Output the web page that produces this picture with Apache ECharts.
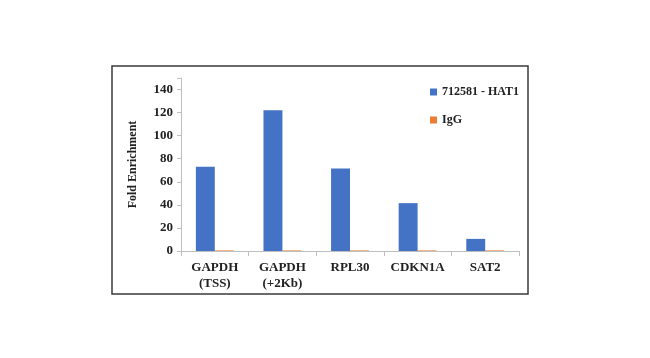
<!DOCTYPE html>
<html><head><meta charset="utf-8">
<script src="https://cdn.jsdelivr.net/npm/echarts@6/dist/echarts.min.js"></script>
<style>html,body{margin:0;padding:0;background:#fff}#c{width:650px;height:358px}</style>
</head><body><div id="c"></div>
<script>
const categories = ['GAPDH\n(TSS)', 'GAPDH\n(+2Kb)', 'RPL30', 'CDKN1A', 'SAT2'];
const hat1Values = [73, 122, 71.5, 41.5, 10.5];
const iggValues = [0.5, 0.5, 0.5, 0.5, 0.5];
const yTicks = [0, 20, 40, 60, 80, 100, 120, 140];
const seriesNames = ['712581 - HAT1', 'IgG'];

const font = '"Liberation Serif", "Times New Roman", serif';
const chart = echarts.init(document.getElementById('c'));
chart.setOption({
  animation: false,
  backgroundColor: '#fff',
  graphic: [{
    type: 'rect', shape: {x: 112, y: 66, width: 416, height: 228},
    style: {fill: 'none', stroke: '#3a3a3a', lineWidth: 1.5}, z: -1
  }],
  legend: {
    orient: 'vertical', left: 425, top: 81, itemGap: 16,
    itemWidth: 7, itemHeight: 7, icon: 'rect',
    textStyle: {fontFamily: font, fontWeight: 'bold', fontSize: 12, color: '#222'},
    data: seriesNames
  },
  grid: {left: 181, right: 131, top: 78, bottom: 107},
  xAxis: {
    type: 'category', data: categories,
    axisLine: {lineStyle: {color: '#bfbfbf'}},
    axisTick: {show: true, length: 5, lineStyle: {color: '#bfbfbf'}},
    axisLabel: {interval: 0, hideOverlap: false, fontFamily: font, fontWeight: 'bold', fontSize: 13, color: '#222', margin: 9, lineHeight: 16}
  },
  yAxis: {
    type: 'value', min: 0, max: 150, interval: 20,
    name: 'Fold Enrichment', nameLocation: 'middle', nameGap: 42,
    nameTextStyle: {fontFamily: font, fontWeight: 'bold', fontSize: 12, color: '#222'},
    axisLine: {show: true, lineStyle: {color: '#bfbfbf'}},
    axisTick: {show: true, length: 4, lineStyle: {color: '#bfbfbf'}},
    splitLine: {show: false},
    axisLabel: {fontFamily: font, fontWeight: 'bold', fontSize: 13, color: '#222', margin: 8,
      formatter: v => yTicks.includes(v) ? String(v) : ''}
  },
  series: [
    {name: seriesNames[0], type: 'bar', data: hat1Values, barGap: '0%', barCategoryGap: '44%',
      itemStyle: {color: '#4472C4'}},
    {name: seriesNames[1], type: 'bar', data: iggValues, barGap: '0%', barCategoryGap: '44%',
      itemStyle: {color: '#ED7D31'}}
  ]
});
</script></body></html>
